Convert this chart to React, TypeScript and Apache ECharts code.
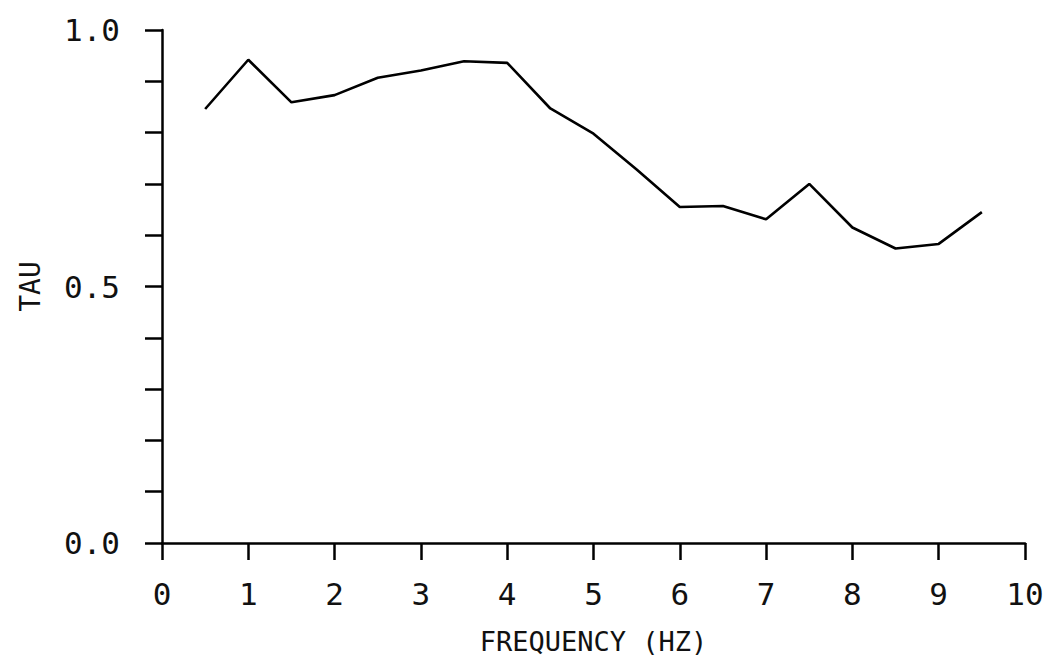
import React, { useEffect, useRef } from "react";
import * as echarts from "echarts";

const frequency = [0.5, 1, 1.5, 2, 2.5, 3, 3.5, 4, 4.5, 5, 5.5, 6, 6.5, 7, 7.5, 8, 8.5, 9, 9.5];
const tau = [0.846, 0.942, 0.859, 0.873, 0.907, 0.921, 0.939, 0.936, 0.847, 0.798, 0.728, 0.655, 0.657, 0.631, 0.7, 0.615, 0.574, 0.583, 0.645];
const yLabels = ["0.0", "0.5", "1.0"];
const xAxisTitle = "FREQUENCY (HZ)";
const yAxisTitle = "TAU";

const FONT = "'DejaVu Sans Mono', monospace";

export default function App() {
  const ref = useRef<HTMLDivElement>(null);
  useEffect(() => {
    const chart = echarts.init(ref.current!, null, { renderer: "svg" });
    chart.setOption({
      animation: false,
      backgroundColor: "#fff",
      grid: { left: 152, right: 25, top: 22, bottom: 110, containLabel: false },
      xAxis: {
        type: "value",
        min: 0,
        max: 10,
        interval: 1,
        name: xAxisTitle,
        nameLocation: "middle",
        nameGap: 85,
        nameTextStyle: { fontFamily: FONT, fontSize: 27, color: "#111" },
        axisLine: { show: true, lineStyle: { color: "#000", width: 2.5 } },
        axisTick: { show: true, inside: false, length: 17, lineStyle: { color: "#000", width: 2.5 } },
        axisLabel: { fontFamily: FONT, fontSize: 31, color: "#111", margin: 35 },
        splitLine: { show: false },
      },
      yAxis: {
        type: "value",
        min: 0,
        max: 1,
        interval: 0.1,
        name: yAxisTitle,
        nameLocation: "middle",
        nameGap: 118,
        nameRotate: 90,
        nameTextStyle: { fontFamily: FONT, fontSize: 28, color: "#111" },
        axisLine: { show: true, lineStyle: { color: "#000", width: 2.5 } },
        axisTick: { show: true, inside: false, length: 17, lineStyle: { color: "#000", width: 2.5 } },
        axisLabel: {
          fontFamily: FONT,
          fontSize: 31,
          color: "#111",
          margin: 42,
          formatter: (v: number) => {
            const idx = [0, 0.5, 1].findIndex((t) => Math.abs(t - v) < 1e-6);
            return idx >= 0 ? yLabels[idx] : "";
          },
        },
        splitLine: { show: false },
      },
      series: [
        {
          type: "line",
          data: frequency.map((f, i) => [f, tau[i]]),
          symbol: "none",
          lineStyle: { color: "#000", width: 2.6 },
        },
      ],
    });
    return () => chart.dispose();
  }, []);
  return <div ref={ref} style={{ width: 1042, height: 652 }} />;
}
